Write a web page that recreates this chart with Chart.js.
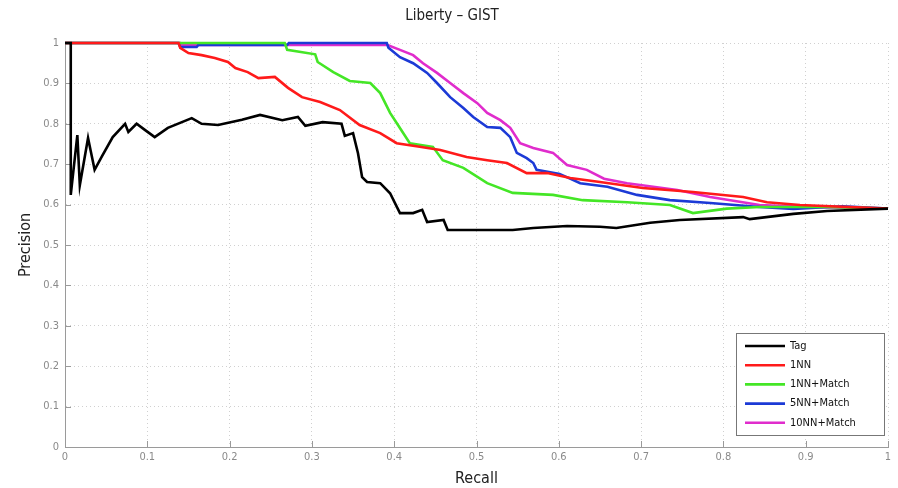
<!DOCTYPE html>
<html>
<head>
<meta charset="utf-8">
<title>Liberty – GIST</title>
<script src="https://cdn.jsdelivr.net/npm/chart.js@4"></script>
<style>
  html, body { margin: 0; padding: 0; background: #fff; }
  #wrap { width: 898px; height: 488px; }
</style>
</head>
<body>
<div id="wrap"><canvas id="prChart" width="898" height="488"></canvas></div>
<script>
// recall / precision pairs for each method
const tagRecall = [0, 0.007, 0.007, 0.015, 0.018, 0.028, 0.031, 0.036, 0.045, 0.058, 0.073, 0.077, 0.087, 0.097, 0.109, 0.125, 0.154, 0.166, 0.186, 0.215, 0.237, 0.264, 0.283, 0.292, 0.313, 0.336, 0.34, 0.35, 0.356, 0.361, 0.367, 0.383, 0.395, 0.407, 0.423, 0.434, 0.44, 0.46, 0.465, 0.496, 0.544, 0.569, 0.61, 0.65, 0.67, 0.711, 0.747, 0.824, 0.832, 0.885, 0.926, 1.0]
const tagPrecision = [1, 1, 0.624, 0.772, 0.648, 0.765, 0.735, 0.686, 0.72, 0.767, 0.80, 0.78, 0.80, 0.785, 0.767, 0.79, 0.814, 0.80, 0.797, 0.81, 0.822, 0.809, 0.817, 0.795, 0.804, 0.80, 0.77, 0.777, 0.727, 0.668, 0.656, 0.653, 0.628, 0.579, 0.579, 0.587, 0.557, 0.562, 0.537, 0.537, 0.537, 0.542, 0.547, 0.545, 0.542, 0.555, 0.562, 0.569, 0.564, 0.577, 0.584, 0.59]

const nn1Recall = [0, 0.138, 0.14, 0.15, 0.166, 0.182, 0.198, 0.207, 0.222, 0.235, 0.255, 0.271, 0.288, 0.31, 0.334, 0.358, 0.383, 0.403, 0.431, 0.456, 0.488, 0.513, 0.537, 0.561, 0.586, 0.614, 0.65, 0.702, 0.763, 0.824, 0.853, 0.893, 1.0]
const nn1Precision = [1, 1, 0.988, 0.975, 0.97, 0.963, 0.953, 0.938, 0.928, 0.913, 0.916, 0.889, 0.866, 0.854, 0.834, 0.797, 0.777, 0.752, 0.743, 0.735, 0.718, 0.710, 0.703, 0.678, 0.678, 0.666, 0.656, 0.641, 0.631, 0.619, 0.606, 0.599, 0.59]

const nn1MatchRecall = [0, 0.267, 0.27, 0.304, 0.307, 0.326, 0.346, 0.371, 0.383, 0.395, 0.403, 0.419, 0.447, 0.459, 0.484, 0.513, 0.544, 0.593, 0.629, 0.683, 0.735, 0.763, 0.804, 0.844, 0.926, 1.0]
const nn1MatchPrecision = [1, 1, 0.983, 0.972, 0.953, 0.928, 0.906, 0.901, 0.876, 0.827, 0.802, 0.752, 0.743, 0.710, 0.691, 0.653, 0.629, 0.624, 0.611, 0.606, 0.599, 0.579, 0.59, 0.594, 0.594, 0.59]

const nn5MatchRecall = [0, 0.138, 0.14, 0.16, 0.162, 0.27, 0.272, 0.391, 0.393, 0.407, 0.423, 0.44, 0.452, 0.468, 0.484, 0.496, 0.513, 0.529, 0.541, 0.549, 0.561, 0.569, 0.573, 0.601, 0.626, 0.659, 0.695, 0.735, 0.784, 0.844, 0.885, 0.945, 1.0]
const nn5MatchPrecision = [1, 1, 0.99, 0.99, 0.995, 0.995, 1, 1, 0.988, 0.965, 0.95, 0.926, 0.901, 0.866, 0.839, 0.817, 0.792, 0.79, 0.767, 0.728, 0.715, 0.703, 0.686, 0.676, 0.653, 0.644, 0.624, 0.611, 0.604, 0.594, 0.589, 0.596, 0.59]

const nn10MatchRecall = [0, 0.14, 0.142, 0.392, 0.407, 0.423, 0.435, 0.452, 0.468, 0.484, 0.501, 0.513, 0.529, 0.541, 0.553, 0.569, 0.593, 0.61, 0.634, 0.655, 0.683, 0.744, 0.784, 0.844, 0.905, 1.0]
const nn10MatchPrecision = [1, 1, 0.995, 0.995, 0.983, 0.97, 0.95, 0.926, 0.901, 0.876, 0.851, 0.827, 0.809, 0.79, 0.752, 0.74, 0.728, 0.698, 0.686, 0.664, 0.653, 0.636, 0.619, 0.599, 0.594, 0.59]

const tickValues = [0, 0.1, 0.2, 0.3, 0.4, 0.5, 0.6, 0.7, 0.8, 0.9, 1]

const labelFont = "'Liberation Sans Narrow', 'DejaVu Sans Condensed', 'Open Sans', sans-serif"

function toPoints(xs, ys) {
  return xs.map((x, i) => ({ x: x, y: ys[i] }))
}

function series(label, xs, ys, color) {
  return {
    label: label,
    data: toPoints(xs, ys),
    borderColor: color,
    backgroundColor: color,
    borderWidth: 2.6,
    pointRadius: 0,
    tension: 0,
    fill: false,
  }
}

// small inward tick marks on the bottom and left axes
const innerTicks = {
  id: "innerTicks",
  beforeDatasetsDraw(chart) {
    const { ctx, chartArea, scales } = chart
    ctx.save()
    ctx.strokeStyle = "#9a9a9a"
    ctx.lineWidth = 1
    ctx.beginPath()
    tickValues.forEach((v) => {
      const px = Math.round(scales.x.getPixelForValue(v)) + 0.5
      ctx.moveTo(px, chartArea.bottom)
      ctx.lineTo(px, chartArea.bottom - 6)
      const py = Math.round(scales.y.getPixelForValue(v)) + 0.5
      ctx.moveTo(chartArea.left, py)
      ctx.lineTo(chartArea.left + 6, py)
    })
    ctx.stroke()
    ctx.restore()
  },
}

// boxed legend in the lower right corner of the plot
const boxLegend = {
  id: "boxLegend",
  afterDatasetsDraw(chart) {
    const { ctx, chartArea } = chart
    const w = 148
    const h = 102
    const x0 = chartArea.right - w - 4
    const y0 = chartArea.bottom - h - 12
    ctx.save()
    ctx.fillStyle = "#fff"
    ctx.fillRect(x0, y0, w, h)
    ctx.strokeStyle = "#777"
    ctx.lineWidth = 1
    ctx.strokeRect(x0 + 0.5, y0 + 0.5, w, h)
    ctx.font = "11px " + labelFont
    ctx.textBaseline = "middle"
    chart.data.datasets.forEach((ds, i) => {
      const y = y0 + 13 + i * 19.2
      ctx.strokeStyle = ds.borderColor
      ctx.lineWidth = 2.6
      ctx.beginPath()
      ctx.moveTo(x0 + 9, y)
      ctx.lineTo(x0 + 49, y)
      ctx.stroke()
      ctx.fillStyle = "#111"
      ctx.fillText(ds.label, x0 + 54, y)
    })
    ctx.restore()
  },
}

new Chart(document.getElementById("prChart"), {
  type: "line",
  data: {
    datasets: [
      series("Tag", tagRecall, tagPrecision, "#000000"),
      series("1NN", nn1Recall, nn1Precision, "#ff1a1a"),
      series("1NN+Match", nn1MatchRecall, nn1MatchPrecision, "#44e626"),
      series("5NN+Match", nn5MatchRecall, nn5MatchPrecision, "#1c3ad6"),
      series("10NN+Match", nn10MatchRecall, nn10MatchPrecision, "#e02ccc"),
    ],
  },
  options: {
    responsive: false,
    animation: false,
    clip: false,
    layout: { padding: { left: 16, right: 10, top: 0, bottom: 0 } },
    plugins: {
      legend: { display: false },
      tooltip: { enabled: false },
      title: {
        display: true,
        text: "Liberty – GIST",
        color: "#222",
        font: { family: labelFont, size: 15, weight: "normal" },
        padding: { top: 7, bottom: 18 },
      },
    },
    scales: {
      x: {
        type: "linear",
        min: 0,
        max: 1,
        afterBuildTicks: (scale) => {
          scale.ticks = tickValues.map((v) => ({ value: v }))
        },
        afterFit: (scale) => {
          scale.height = 41
        },
        grid: { color: "#d0d0d0", lineWidth: 1, drawTicks: false },
        border: { display: true, color: "#9a9a9a", width: 1, dash: [1, 3] },
        ticks: {
          color: "#8a8a8a",
          padding: 4,
          font: { family: labelFont, size: 11 },
          callback: (v) => String(Math.round(v * 10) / 10),
        },
        title: {
          display: true,
          text: "Recall",
          color: "#222",
          padding: { top: 0, bottom: 0 },
          font: { family: labelFont, size: 16 },
        },
      },
      y: {
        type: "linear",
        min: 0,
        max: 1,
        afterBuildTicks: (scale) => {
          scale.ticks = tickValues.map((v) => ({ value: v }))
        },
        afterFit: (scale) => {
          scale.width = 49
        },
        grid: { color: "#d0d0d0", lineWidth: 1, drawTicks: false },
        border: { display: true, color: "#9a9a9a", width: 1, dash: [1, 3] },
        ticks: {
          color: "#8a8a8a",
          padding: 6,
          font: { family: labelFont, size: 11 },
          callback: (v) => String(Math.round(v * 10) / 10),
        },
        title: {
          display: true,
          text: "Precision",
          color: "#222",
          padding: { top: 0, bottom: 0 },
          font: { family: labelFont, size: 16 },
        },
      },
    },
  },
  plugins: [innerTicks, boxLegend],
})
</script>
</body>
</html>
